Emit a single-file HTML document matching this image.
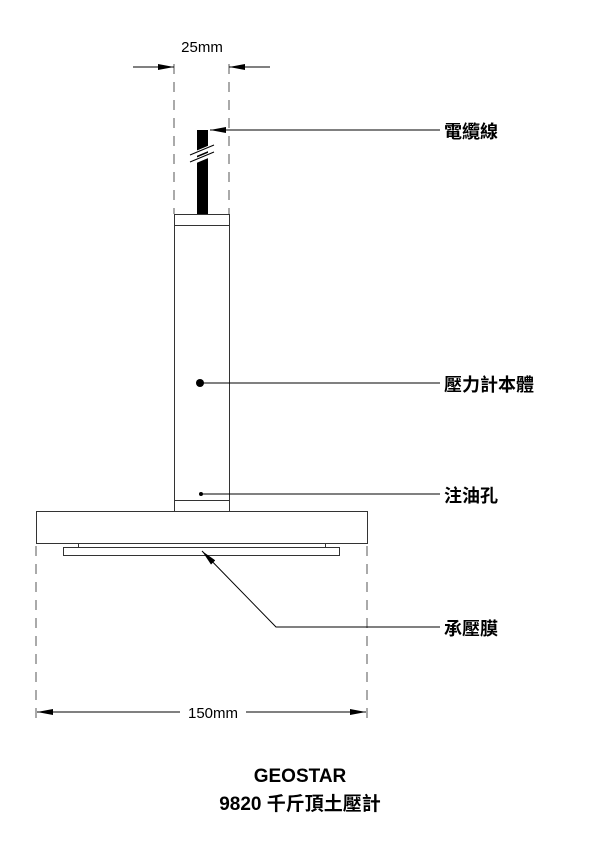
<!DOCTYPE html>
<html><head><meta charset="utf-8"><style>
body{margin:0;background:#fff;}
svg text{font-family:"Liberation Sans","Noto Sans CJK TC",sans-serif;}
</style></head><body>
<svg width="600" height="849" viewBox="0 0 600 849" xmlns="http://www.w3.org/2000/svg">
<defs>
<marker id="a" viewBox="0 0 10 10" preserveAspectRatio="none" refX="10" refY="5" markerWidth="16" markerHeight="6" orient="auto" markerUnits="userSpaceOnUse"><path d="M0,0L10,5L0,10z" fill="#000"/></marker>
</defs>
<g stroke="#555" stroke-width="1" fill="none" stroke-dasharray="10,8">
<line x1="174" y1="64" x2="174" y2="214"/>
<line x1="229" y1="64" x2="229" y2="214"/>
<line x1="36" y1="546" x2="36" y2="718"/>
<line x1="367" y1="546" x2="367" y2="718"/>
</g>
<g stroke="#333" stroke-width="1" fill="#fff">
<rect x="174.5" y="214.5" width="55" height="297"/>
<line x1="174" y1="225.5" x2="229" y2="225.5"/>
<line x1="174" y1="500.5" x2="229" y2="500.5"/>
<rect x="36.5" y="511.5" width="331" height="32"/>
<rect x="78.5" y="543.5" width="247" height="4"/>
<rect x="63.5" y="547.5" width="276" height="8"/>
</g>
<g stroke="#000" stroke-width="1" fill="none">
<line x1="133" y1="67" x2="174" y2="67" marker-end="url(#a)"/>
<line x1="270" y1="67" x2="229" y2="67" marker-end="url(#a)"/>
<line x1="180" y1="712" x2="37" y2="712" marker-end="url(#a)"/>
<line x1="246" y1="712" x2="366" y2="712" marker-end="url(#a)"/>
<line x1="440" y1="130" x2="210" y2="130" marker-end="url(#a)"/>
<line x1="440" y1="383" x2="200" y2="383"/>
<line x1="440" y1="494" x2="201" y2="494"/>
<polyline points="440,627 276,627 202,551" marker-end="url(#a)"/>
</g>
<rect x="197" y="130" width="11" height="84" fill="#000"/>
<path d="M190,156 L214,146 M190,163 L214,153" stroke="#fff" stroke-width="5"/>
<path d="M190,155 L214,145 M190,162 L214,152" stroke="#000" stroke-width="1"/>
<circle cx="200" cy="383" r="4" fill="#000"/>
<circle cx="201" cy="494" r="2" fill="#000"/>
<text x="202" y="52" font-size="15" text-anchor="middle">25mm</text>
<text x="213" y="718" font-size="15" text-anchor="middle">150mm</text>
<g font-size="18" font-weight="bold">
<text x="444" y="138">電纜線</text>
<text x="444" y="391">壓力計本體</text>
<text x="444" y="502">注油孔</text>
<text x="444" y="635">承壓膜</text>
</g>
<text x="300" y="782" font-size="19" font-weight="bold" text-anchor="middle">GEOSTAR</text>
<text x="300" y="810" font-size="19" font-weight="bold" text-anchor="middle">9820 千斤頂土壓計</text>
</svg>
</body></html>
